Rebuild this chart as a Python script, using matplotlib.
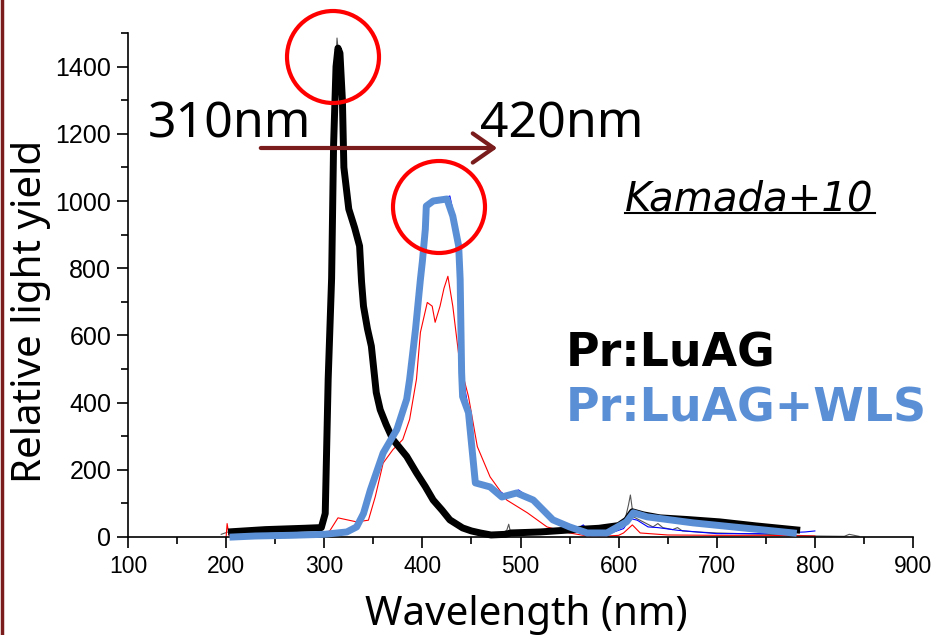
import matplotlib
matplotlib.use("Agg")
import matplotlib.pyplot as plt
from matplotlib.patches import Ellipse
from matplotlib.lines import Line2D
from matplotlib.ticker import MultipleLocator

# Pr:LuAG, thick hand-traced curve
black_wl = [202, 240, 280, 297, 301, 304, 307.5, 309.5, 312, 314, 316, 318.5, 320,
            325, 331, 336, 338, 340, 344, 348, 353, 357, 363, 370, 377, 384, 394,
            403, 411, 420, 428, 441, 450, 459, 470, 485, 490, 520, 550, 580, 600,
            608, 614, 625, 642, 670, 703, 740, 785]
black_val = [15, 22, 26, 28, 70, 470, 770, 1165, 1400, 1455, 1440, 1300, 1100,
             976, 920, 866, 760, 687, 620, 568, 430, 379, 335, 290, 265, 240, 191,
             150, 110, 80, 51, 27, 18, 12, 6, 8, 12, 15, 21, 26, 34,
             50, 75, 66, 57, 52, 45, 33, 20]

# Pr:LuAG+WLS, thick hand-traced curve
wls_wl = [207, 230, 265, 300, 323, 333, 340, 347, 360, 374, 384, 387, 393, 398,
          400, 403, 404, 411, 418, 425, 431, 437, 438.5, 440, 441, 447, 454, 469,
          481, 496, 513, 533, 550, 568, 588, 608, 615, 629, 676, 778]
wls_val = [0, 3, 5, 8, 15, 30, 70, 140, 250, 320, 410, 469, 618, 767,
           820, 916, 985, 1000, 1003, 1006, 955, 866, 767, 490, 418, 370, 161, 149,
           119, 131, 110, 51, 30, 12, 12, 45, 72, 60, 42, 12]

# raw spectra (thin lines)
gray_wl = [195, 202, 297, 301, 305, 309, 312, 313, 314.5, 318, 320, 325, 336, 340,
           348, 353, 357, 370, 384, 394, 411, 428, 441, 459, 480, 486, 488, 490,
           520, 560, 600, 606, 610, 612, 615, 625, 635, 640, 645, 655, 660, 665,
           680, 700, 750, 780, 800, 830, 835, 845]
gray_val = [8, 15, 28, 70, 600, 1150, 1420, 1485, 1440, 1300, 1100, 976, 866, 687,
            568, 430, 379, 290, 240, 191, 110, 51, 27, 12, 10, 20, 38, 12,
            15, 22, 30, 45, 95, 125, 60, 45, 30, 40, 28, 22, 28, 18,
            15, 12, 8, 5, 3, 2, 8, 2]

red_wl = [200, 201, 203, 210, 260, 300, 306, 314, 333, 345, 352, 360, 370, 380,
          387, 394, 398, 405, 410, 413, 418, 422, 426, 431, 438, 447, 456, 469,
          486, 507, 527, 550, 574, 600, 605, 614, 622, 650, 700, 750, 800]
red_val = [0, 40, 5, 3, 3, 5, 20, 57, 45, 50, 120, 220, 260, 290,
           350, 470, 609, 698, 687, 639, 687, 740, 776, 687, 519, 418, 269, 179,
           110, 72, 30, 12, 0, 5, 12, 36, 12, 6, 5, 5, 3]

blue_wl = [207, 300, 330, 345, 360, 380, 395, 405, 411, 420, 428, 432, 438, 441,
           447, 454, 470, 485, 498, 515, 533, 550, 558, 564, 570, 590, 605, 612,
           619, 630, 640, 660, 700, 750, 790, 800]
blue_val = [0, 5, 20, 120, 250, 350, 650, 990, 1000, 1005, 1015, 960, 770, 480,
            380, 165, 150, 125, 140, 105, 50, 20, 25, 36, 15, 10, 25, 55,
            50, 30, 28, 20, 10, 10, 15, 18]

W, H = 940, 635
BLUE = "#5a8fd6"
DARKRED = "#7a1c1c"

plt.rcParams["font.family"] = ["Liberation Sans", "DejaVu Sans"]

fig = plt.figure(figsize=(W / 100, H / 100), dpi=100)
ax = fig.add_axes([128 / W, 1 - 537 / H, (913 - 128) / W, (537 - 33) / H])

ax.plot(gray_wl, gray_val, color="#555555", lw=0.8, zorder=2)
ax.plot(red_wl, red_val, color="red", lw=0.8, zorder=2)
ax.plot(blue_wl, blue_val, color="blue", lw=0.8, zorder=2)
ax.plot(black_wl, black_val, color="black", lw=5, solid_capstyle="butt",
        zorder=3, clip_on=False)
ax.plot(wls_wl, wls_val, color=BLUE, lw=5, zorder=4, clip_on=False)

ax.set_xlim(100, 900)
ax.set_ylim(0, 1500)
ax.xaxis.set_major_locator(MultipleLocator(100))
ax.xaxis.set_minor_locator(MultipleLocator(50))
ax.yaxis.set_major_locator(MultipleLocator(200))
ax.yaxis.set_minor_locator(MultipleLocator(100))
for s in ["top", "right"]:
    ax.spines[s].set_visible(False)
for s in ["left", "bottom"]:
    ax.spines[s].set_linewidth(1.2)
ax.tick_params(which="major", direction="out", length=8, width=1.2)
ax.tick_params(which="minor", direction="out", length=5, width=1.2)
ax.tick_params(axis="x", which="major", labelsize=16.5, pad=5)
ax.tick_params(axis="y", which="major", labelsize=18, pad=4)

ax.set_xlabel("Wavelength (nm)", fontfamily="Noto Sans", fontsize=29, labelpad=12)
ax.set_ylabel("Relative light yield", fontfamily="Noto Sans", fontsize=29, labelpad=3)
ax.xaxis.label.set_x(0.508)
ax.yaxis.label.set_y(0.448)

# annotations
fig.text(148 / W, 1 - 138 / H, "310nm", fontfamily="Noto Sans", fontsize=36, va="baseline")
fig.text(480 / W, 1 - 138 / H, "420nm", fontfamily="Noto Sans", fontsize=36, va="baseline")
ax.annotate("", xy=(500, H - 148), xytext=(258, H - 148),
            xycoords="figure pixels", textcoords="figure pixels",
            arrowprops=dict(arrowstyle="->,head_length=0.5,head_width=0.35",
                            lw=3, color=DARKRED, mutation_scale=30))

for cx, cy in [(333, 57), (439, 207)]:
    fig.add_artist(Ellipse((cx / W, 1 - cy / H), 92 / W, 92 / H,
                           transform=fig.transFigure, fill=False,
                           ec="red", lw=3))

fig.text(625 / W, 1 - 210 / H, "Kamada+10", fontfamily="DejaVu Sans",
         style="italic", fontsize=29, va="baseline")
fig.add_artist(Line2D([625 / W, 875 / W], [1 - 213 / H] * 2, color="black", lw=1.5))

fig.text(566 / W, 1 - 367 / H, "Pr:LuAG", fontfamily="DejaVu Sans",
         fontweight="bold", fontsize=33, va="baseline", color="black")
fig.text(566 / W, 1 - 422 / H, "Pr:LuAG+WLS", fontfamily="DejaVu Sans",
         fontweight="bold", fontsize=33, va="baseline", color=BLUE)

# slide border on the left
fig.add_artist(Line2D([1.5 / W] * 2, [0, 1], color=DARKRED, lw=2.5))

fig.savefig("out.png", dpi=100)
